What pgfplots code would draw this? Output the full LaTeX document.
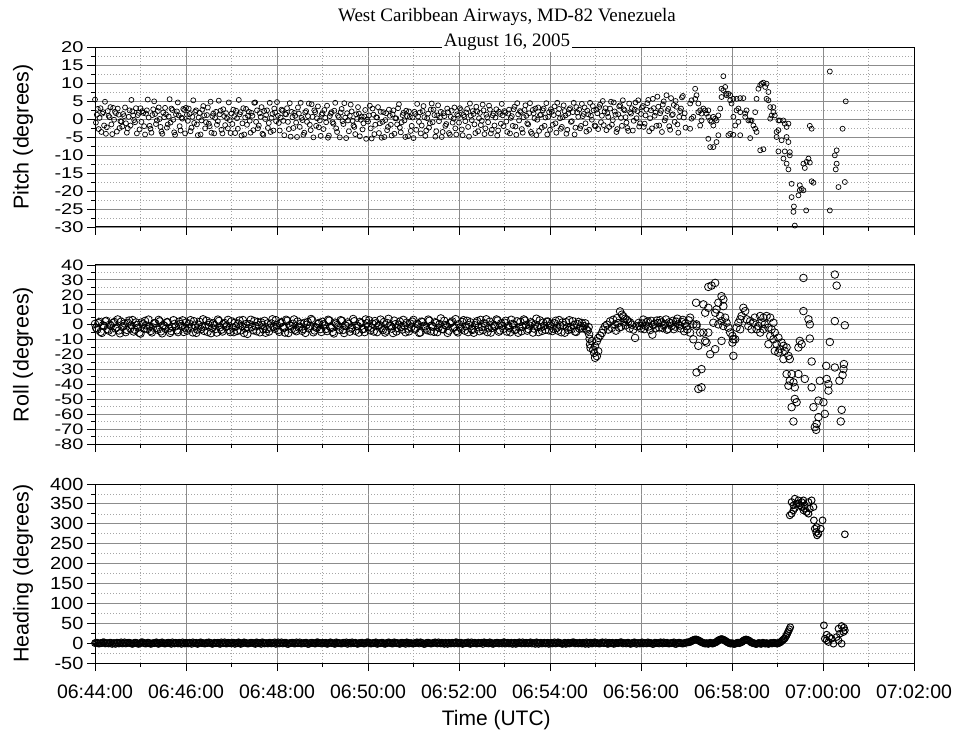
\documentclass[border=0pt]{standalone}
\usepackage{pgfplots}
\pgfplotsset{compat=1.18}
\usepackage{graphicx}
\usepackage{fontspec}
\setmainfont{Liberation Sans}
\newfontfamily\titlefont{Liberation Serif}

\pgfplotsset{
  panel/.style={
    scale only axis, width=819pt,
    xmin=0, xmax=18,
    xtick={0,2,...,18}, minor xtick={1,3,...,17},
    xtick pos=bottom, ytick pos=left,
    tick align=outside,
    major tick length=8pt, minor tick length=4pt,
    grid=both,
    major grid style={black!45, line width=0.9pt},
    minor grid style={black!35, line width=0.6pt, dash pattern=on 1pt off 2pt},
    axis line style={line width=1pt},
    every tick/.style={black, line width=0.9pt},
    minor y tick num=1,
    /pgf/number format/assume math mode=true,
    xticklabels={},
    yticklabel style={anchor=east, font=\fontsize{20}{20}\selectfont},
    every axis y label/.style={at={(axis description cs:-0.0879,0.5)}, rotate=90, anchor=center, font=\fontsize{21.5}{21.5}\selectfont},
  },
  sq/.style={yticklabel={\scalebox{1}[#1]{\pgfmathprintnumber{\tick}}}},
  pmark/.style={only marks, mark=o, mark size=2.5pt, mark options={black, line width=0.7pt}},
  rmark/.style={only marks, mark=o, mark size=3.8pt, mark options={black, line width=0.8pt}},
  hmark/.style={only marks, mark=o, mark size=3.4pt, mark options={black, line width=0.95pt}},
}

\begin{document}
\begin{tikzpicture}
\useasboundingbox (0,0) rectangle (955pt,732pt);

% ---------------- Pitch ----------------
\begin{axis}[panel, sq=0.78, at={(95pt,505pt)}, anchor=south west, height=180pt,
  ymin=-30, ymax=20, ytick={-30,-25,...,20}, ylabel={Pitch (degrees)}]
\addplot[pmark] coordinates {
(0.00,5.4)(0.04,1.2)(0.08,-2.8)(0.12,3.0)(0.16,1.5)(0.20,-1.8)(0.24,-4.1)(0.28,2.2)(0.32,0.5)(0.36,-1.5)(0.40,3.1)(0.44,2.0)(0.48,-3.5)(0.52,1.2)(0.56,-0.6)(0.60,-2.1)(0.64,0.8)(0.68,-1.2)(0.72,-2.6)(0.76,2.4)(0.80,5.3)(0.84,1.0)(0.88,-0.9)(0.92,-4.0)(0.96,1.7)
(1.00,3.0)(1.04,2.2)(1.08,-2.0)(1.12,1.5)(1.16,5.4)(1.20,-1.9)(1.24,-3.8)(1.28,2.7)(1.32,1.4)(1.36,-0.4)(1.40,3.2)(1.44,-2.2)(1.48,-4.1)(1.52,0.5)(1.56,1.3)(1.60,-1.5)(1.64,5.5)(1.68,2.9)(1.72,-0.2)(1.76,-4.4)(1.80,2.1)(1.84,1.0)(1.88,-3.2)(1.92,0.1)(1.96,2.5)
(2.00,3.1)(2.04,-0.5)(2.08,1.4)(2.12,-2.4)(2.16,5.2)(2.20,2.0)(2.24,-1.5)(2.28,0.4)(2.32,-4.3)(2.36,2.6)(2.40,1.0)(2.44,-0.9)(2.48,3.2)(2.52,-2.0)(2.56,-3.8)(2.60,1.5)(2.64,0.3)(2.68,-1.6)(2.72,5.1)(2.76,2.3)(2.80,-4.0)(2.84,0.8)(2.88,1.6)(2.92,-2.6)(2.96,-0.3)
(3.00,1.5)(3.04,2.6)(3.08,-3.9)(3.12,0.2)(3.16,5.3)(3.20,1.9)(3.24,-1.2)(3.28,-4.3)(3.32,2.8)(3.36,0.9)(3.40,-0.5)(3.44,1.7)(3.48,-3.1)(3.52,4.6)(3.56,2.4)(3.60,-1.8)(3.64,0.6)(3.68,-4.1)(3.72,2.2)(3.76,1.1)(3.80,-2.5)(3.84,4.5)(3.88,0.3)(3.92,-3.2)(3.96,1.8)
(4.00,4.7)(4.04,-1.1)(4.08,0.4)(4.12,2.3)(4.16,-4.5)(4.20,1.3)(4.24,-0.8)(4.28,4.4)(4.32,2.0)(4.36,-2.5)(4.40,0.9)(4.44,-5.0)(4.48,1.5)(4.52,4.5)(4.56,-0.3)(4.60,-3.8)(4.64,2.2)(4.68,0.8)(4.72,-1.6)(4.76,4.1)(4.80,-5.1)(4.84,1.9)(4.88,0.2)(4.92,-2.3)(4.96,-4.7)
(5.00,1.6)(5.04,2.5)(5.08,-0.9)(5.12,-5.2)(5.16,0.8)(5.20,1.9)(5.24,-1.3)(5.28,4.5)(5.32,-3.6)(5.36,0.5)(5.40,1.8)(5.44,-0.6)(5.48,4.4)(5.52,-5.3)(5.56,-0.4)(5.60,0.9)(5.64,2.1)(5.68,-1.8)(5.72,-4.2)(5.76,0.0)(5.80,1.5)(5.84,-0.2)(5.88,-2.9)(5.92,0.7)(5.96,-5.5)
(6.00,-0.7)(6.04,3.7)(6.08,-5.4)(6.12,1.2)(6.16,-1.6)(6.20,0.4)(6.24,-3.9)(6.28,2.0)(6.32,-0.8)(6.36,-5.0)(6.40,1.6)(6.44,-2.2)(6.48,0.9)(6.52,-4.6)(6.56,2.4)(6.60,0.2)(6.64,-1.5)(6.68,4.1)(6.72,-3.7)(6.76,1.1)(6.80,-0.4)(6.84,2.3)(6.88,-4.8)(6.92,0.6)(6.96,-1.9)
(7.00,-5.3)(7.04,1.4)(7.08,4.2)(7.12,-0.8)(7.16,-4.0)(7.20,2.2)(7.24,0.5)(7.28,-3.2)(7.32,1.5)(7.36,-1.2)(7.40,4.3)(7.44,2.6)(7.48,-4.9)(7.52,1.0)(7.56,-0.6)(7.60,2.0)(7.64,-3.6)(7.68,0.8)(7.72,-1.4)(7.76,1.9)(7.80,-4.4)(7.84,2.3)(7.88,0.1)(7.92,-2.6)(7.96,1.3)
(8.00,-1.0)(8.04,2.5)(8.08,-4.5)(8.12,0.6)(8.16,1.8)(8.20,-2.2)(8.24,4.3)(8.28,-0.3)(8.32,1.4)(8.36,-3.9)(8.40,2.1)(8.44,0.2)(8.48,-1.7)(8.52,4.0)(8.56,-4.2)(8.60,1.2)(8.64,-0.9)(8.68,2.6)(8.72,-3.0)(8.76,1.5)(8.80,0.4)(8.84,-4.6)(8.88,2.0)(8.92,-1.3)(8.96,1.0)
(9.00,2.2)(9.04,-0.7)(9.08,1.5)(9.12,-4.0)(9.16,0.8)(9.20,2.7)(9.24,-2.1)(9.28,4.4)(9.32,-0.4)(9.36,1.9)(9.40,-3.8)(9.44,2.5)(9.48,0.9)(9.52,-1.5)(9.56,4.4)(9.60,-4.1)(9.64,1.6)(9.68,2.9)(9.72,-0.2)(9.76,-3.3)(9.80,1.2)(9.84,2.4)(9.88,-1.9)(9.92,4.4)(9.96,0.6)
(10.00,-3.0)(10.04,2.0)(10.08,1.1)(10.12,-1.2)(10.16,4.5)(10.20,2.8)(10.24,-2.7)(10.28,0.5)(10.32,2.2)(10.36,-4.1)(10.40,1.5)(10.44,3.0)(10.48,-0.6)(10.52,4.5)(10.56,-2.4)(10.60,1.8)(10.64,2.6)(10.68,-1.9)(10.72,0.8)(10.76,3.2)(10.80,-3.5)(10.84,1.3)(10.88,4.5)(10.92,-0.2)(10.96,2.4)
(11.00,-2.0)(11.04,1.6)(11.08,3.3)(11.12,-0.9)(11.16,5.0)(11.20,2.1)(11.24,-3.1)(11.28,0.6)(11.32,2.9)(11.36,-1.6)(11.40,4.6)(11.44,1.2)(11.48,-2.8)(11.52,3.5)(11.56,0.3)(11.60,5.2)(11.64,2.4)(11.68,-1.0)(11.72,-3.3)(11.76,1.9)(11.80,3.0)(11.84,-0.5)(11.88,4.6)(11.92,2.2)(11.96,-2.1)
(12.00,1.4)(12.04,3.6)(12.08,-1.3)(12.12,2.6)(12.16,5.3)(12.20,0.2)(12.24,-2.6)(12.28,3.0)(12.32,1.8)(12.36,6.2)(12.40,-1.8)(12.44,2.3)(12.48,4.0)(12.52,-0.4)(12.56,6.6)(12.60,2.8)(12.64,-3.0)(12.68,1.1)(12.72,3.9)(12.76,5.0)(12.80,-1.5)(12.84,0.6)(12.88,2.9)(12.92,6.4)(12.96,1.6)
(13.19,8.4)(13.11,5.2)(13.08,4.3)(13.19,5.6)(13.22,6.6)(13.26,4.3)(13.26,1.9)(13.30,2.4)(13.33,1.5)(13.37,2.9)(13.41,2.4)(13.44,1.5)(13.48,0.6)(13.48,2.4)(13.52,-0.4)(13.55,-0.8)(13.59,0.6)(13.63,0.1)(13.66,-0.4)(13.59,-1.8)(13.70,1.0)(13.74,2.9)(13.30,-1.8)(13.33,-0.4)(13.11,0.1)(13.15,0.6)(13.08,-2.7)(13.48,-5.5)(13.52,-7.8)(13.59,-7.8)(13.66,-6.4)(13.70,-4.5)
(13.77,6.1)(13.81,11.9)(13.77,8.4)(13.81,8.0)(13.85,8.9)(13.87,7.0)(13.88,6.6)(13.92,7.0)(13.96,5.2)(13.96,6.6)(14.03,5.6)(13.99,4.3)(14.10,5.6)(14.18,5.8)(14.25,5.8)(14.03,0.6)(14.07,-1.8)(14.10,2.4)(14.14,2.9)(14.18,1.9)(14.14,-0.8)(13.92,-4.5)(13.96,-4.1)(14.03,-4.4)(14.18,-4.5)
(14.29,1.5)(14.32,2.4)(14.36,-0.4)(14.40,-0.4)(14.43,-0.4)(14.29,0.6)(14.47,-1.8)(14.51,-2.7)(14.54,-3.6)(14.40,-5.3)(14.51,1.9)(14.54,5.6)(14.58,8.4)(14.62,9.4)(14.65,9.8)(14.69,10.1)(14.73,8.9)(14.76,9.8)(14.80,7.5)(14.76,5.6)(14.80,5.2)(14.84,3.3)(14.91,3.3)(14.87,1.0)(14.84,0.1)(14.94,1.0)(14.91,1.9)(14.62,-8.7)(14.69,-8.4)
(15.02,-0.4)(15.05,-0.4)(15.13,-0.4)(15.16,-1.3)(15.20,-2.2)(15.24,-1.3)(14.98,-3.6)(15.02,-3.1)(14.98,-5.0)(15.09,-5.9)(15.20,-5.0)(15.24,-6.4)(15.02,-9.0)(15.16,-9.0)(15.27,-9.2)(15.27,-10.1)(15.13,-11.0)(15.20,-12.4)(15.24,-14.0)(15.31,-18.0)(15.31,-21.7)(15.36,-24.3)(15.35,-25.8)(15.38,-29.6)
(15.46,-21.2)(15.49,-18.4)(15.49,-19.8)(15.53,-19.4)(15.57,-19.8)(15.57,-12.4)(15.60,-13.6)(15.64,-11.9)(15.68,-11.0)(15.71,-12.1)(15.63,-25.4)(15.71,-1.9)(15.75,-2.7)(15.75,-17.3)(15.79,-17.7)
(16.15,13.2)(16.15,-25.4)(16.26,-10.1)(16.30,-8.7)(16.30,-12.4)(16.28,-14.0)(16.34,-18.9)(16.48,-17.5)(16.43,-2.7)(16.50,4.9)
};
\addplot[pmark] coordinates {
(0.02,-1.0)(0.06,2.8)(0.10,0.3)(0.14,-3.6)(0.18,1.9)(0.22,4.8)(0.26,-2.3)(0.30,0.9)(0.34,3.3)(0.38,-4.2)(0.42,-0.2)(0.46,1.6)(0.50,2.9)(0.54,-2.5)(0.58,-0.7)(0.62,1.4)(0.66,3.2)(0.70,-3.8)(0.74,0.6)(0.78,-1.8)(0.82,2.1)(0.86,-0.3)(0.90,3.0)(0.94,1.1)(0.98,-2.9)
(1.02,-0.8)(1.06,1.7)(1.10,-4.3)(1.14,2.4)(1.18,0.4)(1.22,-2.7)(1.26,1.1)(1.30,4.9)(1.34,-1.4)(1.38,2.2)(1.42,0.0)(1.46,-3.5)(1.50,1.8)(1.54,3.1)(1.58,-2.4)(1.62,0.7)(1.66,-1.0)(1.70,2.5)(1.74,-3.7)(1.78,1.3)(1.82,4.6)(1.86,-2.0)(1.90,0.4)(1.94,2.8)(1.98,-4.0)
(2.02,1.2)(2.06,2.9)(2.10,-3.4)(2.14,0.6)(2.18,-1.1)(2.22,2.4)(2.26,-4.5)(2.30,1.7)(2.34,-0.4)(2.38,3.6)(2.42,-2.6)(2.46,1.1)(2.50,-1.3)(2.54,4.8)(2.58,0.8)(2.62,-4.0)(2.66,2.0)(2.70,-0.6)(2.74,1.3)(2.78,-3.0)(2.82,2.7)(2.86,-1.7)(2.90,0.2)(2.94,4.6)(2.98,-3.9)
(3.02,-1.4)(3.06,0.8)(3.10,2.3)(3.14,-2.7)(3.18,1.3)(3.22,-4.6)(3.26,3.0)(3.30,0.4)(3.34,-1.6)(3.38,2.0)(3.42,-3.8)(3.46,0.9)(3.50,4.5)(3.54,-0.8)(3.58,-2.6)(3.62,1.6)(3.66,3.3)(3.70,-4.4)(3.74,0.0)(3.78,2.4)(3.82,-1.1)(3.86,-3.6)(3.90,1.4)(3.94,2.9)(3.98,-0.6)
(4.02,0.9)(4.06,-3.2)(4.10,2.6)(4.14,-0.5)(4.18,1.4)(4.22,3.0)(4.26,-2.8)(4.30,-4.9)(4.34,0.5)(4.38,1.7)(4.42,-1.0)(4.46,3.2)(4.50,-2.2)(4.54,0.3)(4.58,-4.4)(4.62,1.8)(4.66,-0.8)(4.70,4.3)(4.74,-3.1)(4.78,0.6)(4.82,2.4)(4.86,-1.9)(4.90,3.5)(4.94,-0.4)(4.98,1.2)
(5.02,-2.8)(5.06,0.3)(5.10,3.7)(5.14,-4.6)(5.18,1.5)(5.22,-0.9)(5.26,2.3)(5.30,-2.6)(5.34,0.9)(5.38,-5.1)(5.42,2.8)(5.46,-1.4)(5.50,0.4)(5.54,1.6)(5.58,-3.4)(5.62,4.0)(5.66,-0.5)(5.70,-2.2)(5.74,1.3)(5.78,3.3)(5.82,-4.8)(5.86,0.7)(5.90,-1.2)(5.94,2.5)(5.98,-0.1)
(6.02,1.0)(6.06,-2.6)(6.10,2.9)(6.14,-4.2)(6.18,0.5)(6.22,3.3)(6.26,-1.2)(6.30,-5.2)(6.34,1.9)(6.38,-0.3)(6.42,-3.1)(6.46,2.6)(6.50,-1.6)(6.54,1.3)(6.58,-4.1)(6.62,0.2)(6.66,3.0)(6.70,-2.4)(6.74,-0.9)(6.78,1.7)(6.82,-5.0)(6.86,0.8)(6.90,2.1)(6.94,-3.3)(6.98,0.4)
(7.02,2.0)(7.06,-3.0)(7.10,0.7)(7.14,1.8)(7.18,-1.8)(7.22,3.6)(7.26,-4.7)(7.30,0.2)(7.34,-2.4)(7.38,2.6)(7.42,-0.9)(7.46,1.1)(7.50,-3.4)(7.54,3.8)(7.58,0.4)(7.62,-5.0)(7.66,1.6)(7.70,-1.9)(7.74,2.9)(7.78,-3.9)(7.82,0.6)(7.86,-1.0)(7.90,3.2)(7.94,-4.3)(7.98,0.9)
(8.02,3.0)(8.06,-2.9)(8.10,1.1)(8.14,-0.6)(8.18,2.8)(8.22,-4.9)(8.26,0.9)(8.30,2.2)(8.34,-1.5)(8.38,3.4)(8.42,-3.4)(8.46,1.7)(8.50,-0.5)(8.54,2.4)(8.58,-2.6)(8.62,0.5)(8.66,3.7)(8.70,-4.0)(8.74,1.0)(8.78,-1.8)(8.82,2.7)(8.86,-3.2)(8.90,1.4)(8.94,4.2)(8.98,-2.0)
(9.02,1.8)(9.06,-3.6)(9.10,2.6)(9.14,0.3)(9.18,-1.9)(9.22,3.4)(9.26,-4.4)(9.30,1.3)(9.34,2.2)(9.38,-2.8)(9.42,0.5)(9.46,3.8)(9.50,-1.2)(9.54,1.6)(9.58,-3.6)(9.62,2.5)(9.66,0.2)(9.70,-4.5)(9.74,3.2)(9.78,1.1)(9.82,-2.4)(9.86,2.9)(9.90,0.4)(9.94,-4.3)(9.98,1.9)
(10.02,2.7)(10.06,-1.6)(10.10,3.5)(10.14,-3.8)(10.18,1.6)(10.22,0.2)(10.26,-2.2)(10.30,3.8)(10.34,1.0)(10.38,-3.0)(10.42,2.6)(10.46,-0.8)(10.50,1.9)(10.54,-4.3)(10.58,3.3)(10.62,0.6)(10.66,-2.6)(10.70,4.2)(10.74,1.4)(10.78,-1.2)(10.82,2.3)(10.86,-3.0)(10.90,0.9)(10.94,3.6)(10.98,-1.8)
(11.02,2.6)(11.06,-2.8)(11.10,4.0)(11.14,0.9)(11.18,-1.7)(11.22,3.0)(11.26,1.6)(11.30,-2.2)(11.34,4.8)(11.38,-0.3)(11.42,2.1)(11.46,-3.6)(11.50,1.3)(11.54,3.8)(11.58,-1.9)(11.62,2.7)(11.66,0.5)(11.70,-2.5)(11.74,4.3)(11.78,1.5)(11.82,-3.2)(11.86,2.6)(11.90,0.2)(11.94,5.2)(11.98,-1.2)
(12.02,3.2)(12.06,-2.2)(12.10,1.0)(12.14,4.4)(12.18,-3.4)(12.22,2.4)(12.26,5.6)(12.30,0.9)(12.34,-1.9)(12.38,3.4)(12.42,1.6)(12.46,-3.6)(12.50,4.9)(12.54,0.3)(12.58,2.2)(12.62,-2.0)(12.66,5.8)(12.70,1.3)(12.74,-0.8)(12.78,3.4)(12.82,-3.8)(12.86,2.2)(12.90,6.0)(12.94,0.4)(12.98,-2.4)
};
\end{axis}

% ---------------- Roll ----------------
\begin{axis}[panel, sq=0.76, at={(95pt,288pt)}, anchor=south west, height=179pt,
  ymin=-80, ymax=40, ytick={-80,-70,...,40}, ylabel={Roll (degrees)}]
\addplot[rmark] coordinates {
(0.00,0.5)(0.05,-3.2)(0.10,1.8)(0.15,-5.5)(0.20,-1.0)(0.25,2.6)(0.30,-4.0)(0.35,-0.8)(0.40,1.2)(0.45,-2.5)(0.50,3.5)(0.55,-5.8)(0.60,-1.5)(0.65,0.8)(0.70,-3.5)(0.75,2.8)(0.80,-0.5)(0.85,-4.6)(0.90,1.5)(0.95,-2.0)
(1.00,-6.0)(1.05,0.2)(1.10,2.5)(1.15,-3.0)(1.20,-1.2)(1.25,-5.2)(1.30,1.0)(1.35,-2.2)(1.40,3.2)(1.45,-4.5)(1.50,-0.3)(1.55,-2.8)(1.60,1.6)(1.65,-5.5)(1.70,-1.6)(1.75,0.5)(1.80,-3.8)(1.85,2.0)(1.90,-0.9)(1.95,-4.9)
(2.00,1.4)(2.05,-2.4)(2.10,3.0)(2.15,-5.2)(2.20,-0.6)(2.25,-3.3)(2.30,1.9)(2.35,-1.4)(2.40,-4.2)(2.45,2.6)(2.50,-0.2)(2.55,-5.7)(2.60,0.9)(2.65,-2.9)(2.70,3.4)(2.75,-1.8)(2.80,-4.6)(2.85,1.1)(2.90,-0.7)(2.95,-3.6)
(3.00,2.2)(3.05,-5.0)(3.10,-1.1)(3.15,0.7)(3.20,-3.9)(3.25,3.1)(3.30,-2.3)(3.35,-6.2)(3.40,0.3)(3.45,-1.5)(3.50,2.4)(3.55,-4.4)(3.60,-0.4)(3.65,1.6)(3.70,-3.1)(3.75,-5.4)(3.80,0.9)(3.85,-1.9)(3.90,3.6)(3.95,-2.7)
(4.00,-0.3)(4.05,-4.8)(4.10,1.7)(4.15,-2.1)(4.20,3.3)(4.25,-5.6)(4.30,-0.9)(4.35,0.6)(4.40,-3.4)(4.45,2.1)(4.50,-1.3)(4.55,-4.1)(4.60,1.2)(4.65,-0.1)(4.70,-2.6)(4.75,3.8)(4.80,-5.1)(4.85,-1.7)(4.90,0.4)(4.95,-3.0)
(5.00,1.9)(5.05,-0.6)(5.10,-4.3)(5.15,2.7)(5.20,-2.2)(5.25,-5.9)(5.30,0.8)(5.35,-1.1)(5.40,3.0)(5.45,-3.6)(5.50,-0.4)(5.55,1.5)(5.60,-4.7)(5.65,-2.0)(5.70,2.3)(5.75,-0.8)(5.80,-5.3)(5.85,1.0)(5.90,-2.9)(5.95,3.5)
(6.00,-1.4)(6.05,-3.8)(6.10,0.6)(6.15,2.4)(6.20,-5.0)(6.25,-0.2)(6.30,-2.5)(6.35,1.8)(6.40,-4.0)(6.45,3.9)(6.50,-1.0)(6.55,-5.6)(6.60,0.3)(6.65,-2.2)(6.70,2.0)(6.75,-3.3)(6.80,-0.5)(6.85,1.3)(6.90,-4.5)(6.95,-1.8)
(7.00,3.2)(7.05,-2.6)(7.10,0.1)(7.15,-5.2)(7.20,1.7)(7.25,-1.2)(7.30,-3.7)(7.35,2.6)(7.40,-0.6)(7.45,-4.8)(7.50,1.1)(7.55,-2.0)(7.60,4.2)(7.65,-3.1)(7.70,-0.3)(7.75,-5.5)(7.80,0.8)(7.85,2.2)(7.90,-1.6)(7.95,-4.2)
(8.00,0.4)(8.05,-2.8)(8.10,3.0)(8.15,-1.0)(8.20,-5.0)(8.25,1.6)(8.30,-3.5)(8.35,-0.4)(8.40,2.4)(8.45,-4.4)(8.50,-1.5)(8.55,0.9)(8.60,3.6)(8.65,-2.4)(8.70,-5.3)(8.75,0.2)(8.80,-1.1)(8.85,2.8)(8.90,-3.8)(8.95,-0.7)
(9.00,1.3)(9.05,-4.6)(9.10,-2.0)(9.15,3.3)(9.20,0.0)(9.25,-3.2)(9.30,-5.4)(9.35,1.9)(9.40,-1.3)(9.45,2.7)(9.50,-4.0)(9.55,-0.6)(9.60,0.8)(9.65,-2.6)(9.70,4.0)(9.75,-5.0)(9.80,-1.8)(9.85,1.4)(9.90,-3.4)(9.95,2.1)
(10.00,-0.8)(10.05,-4.3)(10.10,1.0)(10.15,-2.2)(10.20,3.1)(10.25,-5.1)(10.30,-0.4)(10.35,1.7)(10.40,-3.6)(10.45,-1.5)(10.50,2.3)(10.55,-4.6)(10.60,0.5)(10.65,-2.7)(10.70,1.2)(10.75,-0.9)(10.80,-3.2)(10.85,-1.6)
(10.86,-6.5)(10.87,-9.5)(10.88,-13.3)(10.92,-11.1)(10.89,-15.6)(10.95,-16.7)(10.97,-18.9)(10.99,-22.2)(11.03,-21.1)(11.06,-17.8)(10.99,-14.4)(11.03,-11.1)(11.06,-8.9)(11.10,-7.3)(11.14,-5.6)(11.17,-3.3)(11.21,-1.1)(11.25,0)(11.32,2.2)(11.39,3.3)(11.47,4.4)(11.54,8.9)(11.58,6.7)(11.61,5.6)(11.50,1.1)(11.43,0)(11.36,-2.2)(11.28,-3.3)(11.69,3.3)(11.72,2.2)(11.80,0)(11.87,-8.9)(11.83,-3.3)(11.91,-1.1)
(11.45,-4.0)(11.56,-1.5)(11.66,-0.5)(11.75,-2.5)(11.62,1.5)(11.52,-2.0)(11.65,4.0)(11.76,1.5)
(11.95,1.2)(12.00,-2.5)(12.05,3.4)(12.10,-0.8)(12.15,2.2)(12.20,-3.6)(12.25,-6.7)(12.30,0.6)(12.35,2.8)(12.40,-1.9)(12.45,1.5)(12.50,-0.4)(12.55,3.5)(12.60,-2.8)(12.65,0.9)(12.70,2.6)(12.75,-1.3)(12.80,4.0)(12.85,-0.6)(12.90,1.8)(12.95,-4.4)(13.00,-1.0)(13.05,2.9)
(11.97,-1.0)(12.02,0.8)(12.07,-3.0)(12.12,1.6)(12.17,-1.2)(12.22,2.6)(12.27,-0.2)(12.32,-2.4)(12.37,1.0)(12.42,3.0)(12.47,-2.2)(12.52,0.4)(12.57,-3.4)(12.62,1.6)(12.67,-0.8)(12.72,-3.0)(12.77,2.0)(12.82,0.2)(12.87,-2.6)(12.92,3.2)(12.97,0.6)(13.02,-3.2)
(13.08,4.7)(13.15,0.2)(13.22,-0.9)(13.08,-5.3)(13.15,-9.8)(13.26,-14.2)(13.37,-5.3)(13.48,-5.3)(13.41,-10.9)(13.44,-12)(13.52,-19.8)(13.63,-16.4)(13.30,-5.3)(13.22,0.2)(13.21,14.7)(13.37,13.6)(13.48,11.3)(13.41,8)(13.48,25.3)(13.55,26.2)(13.63,28)
(13.77,19.1)(13.81,16.9)(13.70,14.7)(13.81,12.4)(13.66,10.2)(13.63,8)(13.74,5.8)(13.85,4.7)(13.88,1.3)(13.77,2.4)(13.70,0.2)(13.59,1.3)(13.81,-0.9)(13.92,-2)(13.96,-5.3)(14.01,-7.6)(14.03,-9.8)(14.01,-12)(14.07,-9.8)(13.77,-10.9)(14.03,-20.9)(13.22,-32)(13.33,-29.8)(13.26,-43.1)(13.33,-42)
(14.25,11.3)(14.29,9.1)(14.21,5.8)(14.18,3.6)(14.14,1.3)(14.10,-2)(14.18,-3.1)(14.32,3.6)(14.40,2.4)(14.47,1.3)(14.36,-0.9)(14.43,-3.1)(14.54,-3.1)(14.62,5.8)(14.69,4.7)(14.76,5.8)(14.84,4.7)(14.65,1.3)(14.72,0.2)(14.80,-2)(14.87,-3.1)(14.91,1.3)(14.58,-0.9)(14.50,4.7)(14.84,-7.6)(14.91,-9.8)(14.94,-5.3)(14.98,-13.1)(15.02,-8.7)(15.05,-16.4)(15.09,-12)(15.13,-14.2)(15.16,-17.6)(15.20,-15.3)(15.24,-20.9)(15.27,-23.1)(15.13,-23.1)(15.02,-18.7)(14.94,-17.6)(14.80,-13.1)(14.62,-5.3)(14.69,-3.1)
(15.20,-33.1)(15.31,-33.1)(15.46,-33.1)(15.27,-37.6)(15.35,-38.7)(15.24,-40.9)(15.38,-42)(15.60,-36.4)(15.75,-42)(15.38,-49.8)(15.42,-52)(15.31,-55.3)(15.35,-64.9)(15.57,9.1)(15.68,3.6)(15.71,0.2)(15.49,-10.9)(15.53,-13.1)(15.46,-15.3)(15.71,-9.3)(15.75,-24.7)(15.93,-37.6)(15.90,-50.9)(16.01,-52)(15.79,-55.3)(16.04,-59.8)(15.90,-62)(15.86,-66.5)(15.82,-68.7)(15.85,-70.5)
(16.08,-36.4)(16.12,-39.8)(16.07,-27.6)(16.12,-44.2)(16.15,-11.6)(16.26,33.6)(16.30,26.2)(16.26,2.4)(16.48,-0.4)(16.26,-28.7)(16.46,-26.4)(16.45,-29.8)(16.43,-33.8)(16.36,-37.6)(16.41,-57.1)(16.39,-64.9)(15.57,31.3)
};
\addplot[rmark] coordinates {
(0.025,-2.2)(0.075,1.0)(0.125,-4.8)(0.175,-0.4)(0.225,2.2)(0.275,-3.0)(0.325,0.0)(0.375,-5.2)(0.425,1.8)(0.475,-1.8)(0.525,-3.9)(0.575,2.0)(0.625,-0.9)(0.675,-5.0)(0.725,1.2)(0.775,-2.5)(0.825,3.1)(0.875,-3.4)(0.925,-0.2)(0.975,-5.4)
(1.025,1.5)(1.075,-2.7)(1.125,-0.5)(1.175,3.4)(1.225,-4.2)(1.275,-1.9)(1.325,0.9)(1.375,-3.4)(1.425,2.2)(1.475,-5.8)(1.525,-0.8)(1.575,1.6)(1.625,-2.4)(1.675,-4.3)(1.725,3.0)(1.775,-1.1)(1.825,-5.0)(1.875,0.4)(1.925,2.9)(1.975,-2.0)
(2.025,-4.0)(2.075,0.6)(2.125,-1.9)(2.175,2.3)(2.225,-5.5)(2.275,-0.1)(2.325,-3.0)(2.375,3.6)(2.425,-1.0)(2.475,-4.9)(2.525,1.4)(2.575,-2.3)(2.625,-0.3)(2.675,-5.3)(2.725,2.5)(2.775,-3.4)(2.825,0.3)(2.875,-1.4)(2.925,3.2)(2.975,-5.0)
(3.025,-2.0)(3.075,1.3)(3.125,-4.2)(3.175,2.8)(3.225,-0.8)(3.275,-5.6)(3.325,0.5)(3.375,-2.5)(3.425,3.3)(3.475,-3.7)(3.525,-1.0)(3.575,1.8)(3.625,-5.1)(3.675,-0.2)(3.725,2.6)(3.775,-2.9)(3.825,-4.6)(3.875,0.8)(3.925,-1.4)(3.975,3.0)
(4.025,-3.6)(4.075,1.0)(4.125,-1.6)(4.175,-5.3)(4.225,2.6)(4.275,-0.4)(4.325,-3.0)(4.375,3.5)(4.425,-4.4)(4.475,-1.9)(4.525,0.7)(4.575,-2.9)(4.625,-5.5)(4.675,1.8)(4.725,-0.7)(4.775,2.9)(4.825,-3.9)(4.875,-2.2)(4.925,1.2)(4.975,-4.9)
(5.025,0.2)(5.075,-2.9)(5.125,3.3)(5.175,-1.6)(5.225,-4.9)(5.275,1.4)(5.325,-0.2)(5.375,-3.4)(5.425,2.5)(5.475,-5.6)(5.525,-1.0)(5.575,0.5)(5.625,-2.6)(5.675,3.8)(5.725,-4.1)(5.775,-0.9)(5.825,1.8)(5.875,-3.0)(5.925,-5.0)(5.975,0.9)
(6.025,2.9)(6.075,-2.0)(6.125,-4.6)(6.175,0.9)(6.225,-1.1)(6.275,3.4)(6.325,-3.6)(6.375,-5.3)(6.425,1.1)(6.475,-0.6)(6.525,-2.7)(6.575,2.7)(6.625,-4.6)(6.675,0.0)(6.725,-1.6)(6.775,3.2)(6.825,-5.1)(6.875,-2.6)(6.925,0.8)(6.975,2.0)
(7.025,-3.2)(7.075,0.5)(7.125,-5.5)(7.175,2.0)(7.225,-0.8)(7.275,-2.6)(7.325,3.4)(7.375,-4.4)(7.425,-1.4)(7.475,1.6)(7.525,-5.0)(7.575,0.4)(7.625,-2.9)(7.675,2.6)(7.725,-0.9)(7.775,-4.0)(7.825,1.4)(7.875,-2.2)(7.925,3.7)(7.975,-5.2)
(8.025,-1.8)(8.075,1.8)(8.125,-4.0)(8.175,2.6)(8.225,-0.2)(8.275,-3.0)(8.325,-5.4)(8.375,1.2)(8.425,-1.7)(8.475,3.2)(8.525,-3.6)(8.575,0.6)(8.625,-5.0)(8.675,2.0)(8.725,-2.2)(8.775,-0.6)(8.825,3.5)(8.875,-4.7)(8.925,0.9)(8.975,-2.8)
(9.025,2.6)(9.075,-1.0)(9.125,-5.1)(9.175,0.5)(9.225,-3.6)(9.275,2.2)(9.325,-1.8)(9.375,-4.4)(9.425,3.5)(9.475,-0.2)(9.525,-2.9)(9.575,1.6)(9.625,-5.3)(9.675,0.1)(9.725,-1.4)(9.775,2.9)(9.825,-4.2)(9.875,-0.7)(9.925,1.9)(9.975,-3.8)
(10.025,0.6)(10.075,-2.7)(10.125,2.6)(10.175,-4.0)(10.225,-0.5)(10.275,1.5)(10.325,-5.4)(10.375,-1.9)(10.425,3.0)(10.475,-3.0)(10.525,-0.2)(10.575,-4.9)(10.625,1.8)(10.675,-1.1)(10.725,-2.5)(10.775,0.9)(10.825,-4.0)
};
\end{axis}

% ---------------- Heading ----------------
\begin{axis}[panel, sq=0.88, at={(95pt,69pt)}, anchor=south west, height=179pt,
  ymin=-50, ymax=400, ytick={-50,0,...,400}, ylabel={Heading (degrees)},
  xticklabels={06:44:00,06:46:00,06:48:00,06:50:00,06:52:00,06:54:00,06:56:00,06:58:00,07:00:00,07:02:00},
  xticklabel style={anchor=base, yshift=-27pt, font=\fontsize{19.5}{19.5}\selectfont},
  xlabel={Time (UTC)},
  xlabel style={at={(axis description cs:0.49,0)}, anchor=base, yshift=-62pt, font=\fontsize{21}{21}\selectfont}]
\addplot[hmark] coordinates {
(0.00,0)(0.05,1)(0.10,-1)(0.15,0)(0.20,2)(0.25,0)(0.30,-1)(0.35,1)(0.40,0)(0.45,-2)(0.50,1)(0.55,0)(0.60,-1)(0.65,2)(0.70,0)(0.75,1)(0.80,-1)(0.85,0)(0.90,1)(0.95,-2)
(1.00,0)(1.05,2)(1.10,-1)(1.15,1)(1.20,0)(1.25,-1)(1.30,0)(1.35,2)(1.40,-2)(1.45,1)(1.50,0)(1.55,-1)(1.60,1)(1.65,0)(1.70,2)(1.75,-1)(1.80,0)(1.85,1)(1.90,-2)(1.95,0)
(2.00,1)(2.05,-1)(2.10,0)(2.15,2)(2.20,0)(2.25,-2)(2.30,1)(2.35,0)(2.40,-1)(2.45,1)(2.50,2)(2.55,0)(2.60,-1)(2.65,0)(2.70,1)(2.75,-2)(2.80,0)(2.85,2)(2.90,-1)(2.95,0)
(3.00,-1)(3.05,1)(3.10,0)(3.15,2)(3.20,-2)(3.25,0)(3.30,1)(3.35,-1)(3.40,0)(3.45,1)(3.50,-1)(3.55,2)(3.60,0)(3.65,-2)(3.70,1)(3.75,0)(3.80,-1)(3.85,1)(3.90,0)(3.95,2)
(4.00,0)(4.05,-1)(4.10,2)(4.15,0)(4.20,1)(4.25,-2)(4.30,0)(4.35,1)(4.40,-1)(4.45,0)(4.50,2)(4.55,-1)(4.60,0)(4.65,1)(4.70,-2)(4.75,1)(4.80,0)(4.85,-1)(4.90,2)(4.95,0)
(5.00,1)(5.05,0)(5.10,-2)(5.15,1)(5.20,0)(5.25,-1)(5.30,2)(5.35,0)(5.40,-1)(5.45,1)(5.50,0)(5.55,-2)(5.60,1)(5.65,2)(5.70,0)(5.75,-1)(5.80,0)(5.85,1)(5.90,-1)(5.95,0)
(6.00,2)(6.05,-1)(6.10,0)(6.15,1)(6.20,-2)(6.25,0)(6.30,1)(6.35,-1)(6.40,0)(6.45,2)(6.50,0)(6.55,-1)(6.60,1)(6.65,0)(6.70,-2)(6.75,1)(6.80,0)(6.85,2)(6.90,-1)(6.95,0)
(7.00,-1)(7.05,0)(7.10,1)(7.15,2)(7.20,0)(7.25,-2)(7.30,1)(7.35,0)(7.40,-1)(7.45,1)(7.50,0)(7.55,2)(7.60,-1)(7.65,0)(7.70,1)(7.75,-2)(7.80,0)(7.85,1)(7.90,-1)(7.95,2)
(8.00,0)(8.05,1)(8.10,-1)(8.15,0)(8.20,2)(8.25,-2)(8.30,0)(8.35,1)(8.40,-1)(8.45,0)(8.50,1)(8.55,2)(8.60,0)(8.65,-1)(8.70,1)(8.75,-2)(8.80,0)(8.85,1)(8.90,0)(8.95,-1)
(9.00,2)(9.05,0)(9.10,-1)(9.15,1)(9.20,0)(9.25,-2)(9.30,1)(9.35,0)(9.40,2)(9.45,-1)(9.50,0)(9.55,1)(9.60,-1)(9.65,0)(9.70,2)(9.75,-2)(9.80,1)(9.85,0)(9.90,-1)(9.95,1)
(10.00,0)(10.05,-1)(10.10,2)(10.15,0)(10.20,1)(10.25,-1)(10.30,0)(10.35,-2)(10.40,1)(10.45,0)(10.50,2)(10.55,-1)(10.60,0)(10.65,1)(10.70,-1)(10.75,0)(10.80,2)(10.85,-2)(10.90,1)(10.95,0)
(11.00,1)(11.05,0)(11.10,-1)(11.15,2)(11.20,0)(11.25,-1)(11.30,1)(11.35,0)(11.40,-2)(11.45,1)(11.50,0)(11.55,2)(11.60,-1)(11.65,0)(11.70,1)(11.75,-1)(11.80,0)(11.85,2)(11.90,-2)(11.95,0)
(12.00,1)(12.05,-1)(12.10,0)(12.15,2)(12.20,0)(12.25,-2)(12.30,1)(12.35,0)(12.40,-1)(12.45,1)(12.50,2)(12.55,0)(12.60,-1)(12.65,0)(12.70,1)(12.75,-2)(12.80,0)(12.85,1)(12.90,-1)(12.95,0)
(13.00,1)(13.05,2)(13.10,4)(13.12,6)(13.16,8)(13.20,9)(13.24,8)(13.28,6)(13.32,3)(13.36,1)(13.40,-1)(13.44,0)(13.48,-2)(13.52,1)(13.56,-1)(13.60,0)(13.64,2)(13.68,5)(13.72,8)(13.76,10)(13.80,9)(13.84,7)(13.88,4)(13.92,1)(13.96,-1)
(14.00,0)(14.04,-2)(14.08,-1)(14.12,1)(14.16,0)(14.20,2)(14.24,5)(14.28,8)(14.32,9)(14.36,7)(14.40,4)(14.44,1)(14.48,0)(14.52,-2)(14.56,-1)(14.60,0)(14.64,-2)(14.68,1)(14.72,-1)(14.76,0)(14.80,-2)(14.84,0)(14.88,-1)(14.92,1)(14.96,0)
(15.00,-1)(15.04,1)(15.08,4)(15.12,8)(15.16,12)(15.18,16)(15.20,20)(15.22,25)(15.24,30)(15.26,35)(15.28,40)
(15.31,325.4)(15.35,333.8)(15.31,354.7)(15.38,363.1)(15.46,358.9)(15.53,354.7)(15.60,346.4)(15.64,329.6)(15.57,333.8)(15.68,325.4)(15.75,358.9)(15.79,342.2)(15.49,346.4)(15.42,350.5)(15.38,339.7)(15.35,346.4)(15.27,321.2)(15.71,338)(15.60,338)(15.53,342.2)(15.46,350.5)(15.68,354.7)(15.57,358.9)
(15.80,308.6)(15.99,308.6)(15.86,291.9)(15.85,279.3)(15.87,270.9)(15.95,287.7)(15.90,275.1)(15.82,287.7)(16.48,273.5)
(16.02,44.7)(16.08,21.2)(16.04,11.2)(16.12,2.8)(16.23,-1.4)(16.41,-1.4)(16.34,36.3)(16.41,43)(16.46,38.8)(16.48,32.1)(16.37,23.7)(16.14,15.4)(16.19,11.2)(16.30,15.4)(16.34,7)(16.08,7)(16.45,27.9)
};
\addplot[hmark] coordinates {
(0.025,1)(0.075,-1)(0.125,0)(0.175,2)(0.225,-1)(0.275,0)(0.325,1)(0.375,-2)(0.425,0)(0.475,1)(0.525,-1)(0.575,2)(0.625,0)(0.675,-1)(0.725,1)(0.775,0)(0.825,-2)(0.875,1)(0.925,0)(0.975,-1)
(1.025,2)(1.075,0)(1.125,-1)(1.175,1)(1.225,-2)(1.275,0)(1.325,1)(1.375,-1)(1.425,0)(1.475,2)(1.525,-1)(1.575,0)(1.625,1)(1.675,-2)(1.725,0)(1.775,1)(1.825,-1)(1.875,0)(1.925,2)(1.975,-1)
(2.025,0)(2.075,1)(2.125,-2)(2.175,0)(2.225,1)(2.275,-1)(2.325,2)(2.375,0)(2.425,-1)(2.475,0)(2.525,1)(2.575,-2)(2.625,1)(2.675,0)(2.725,-1)(2.775,2)(2.825,0)(2.875,-1)(2.925,1)(2.975,0)
(3.025,1)(3.075,-2)(3.125,0)(3.175,1)(3.225,-1)(3.275,2)(3.325,0)(3.375,-1)(3.425,1)(3.475,0)(3.525,-2)(3.575,1)(3.625,0)(3.675,2)(3.725,-1)(3.775,0)(3.825,1)(3.875,-1)(3.925,0)(3.975,-2)
(4.025,2)(4.075,0)(4.125,-1)(4.175,1)(4.225,-2)(4.275,0)(4.325,1)(4.375,-1)(4.425,2)(4.475,0)(4.525,-1)(4.575,0)(4.625,1)(4.675,-2)(4.725,0)(4.775,1)(4.825,-1)(4.875,2)(4.925,0)(4.975,-1)
(5.025,0)(5.075,1)(5.125,-1)(5.175,2)(5.225,0)(5.275,-2)(5.325,1)(5.375,0)(5.425,-1)(5.475,1)(5.525,2)(5.575,0)(5.625,-1)(5.675,0)(5.725,1)(5.775,-2)(5.825,0)(5.875,1)(5.925,-1)(5.975,2)
(6.025,1)(6.075,-1)(6.125,0)(6.175,2)(6.225,-1)(6.275,0)(6.325,1)(6.375,-2)(6.425,0)(6.475,1)(6.525,-1)(6.575,2)(6.625,0)(6.675,-1)(6.725,1)(6.775,0)(6.825,-2)(6.875,1)(6.925,0)(6.975,-1)
(7.025,0)(7.075,2)(7.125,-1)(7.175,1)(7.225,-2)(7.275,0)(7.325,1)(7.375,-1)(7.425,0)(7.475,2)(7.525,-1)(7.575,0)(7.625,1)(7.675,-2)(7.725,0)(7.775,1)(7.825,-1)(7.875,0)(7.925,2)(7.975,-1)
(8.025,1)(8.075,-2)(8.125,0)(8.175,1)(8.225,-1)(8.275,2)(8.325,0)(8.375,-1)(8.425,1)(8.475,0)(8.525,-2)(8.575,1)(8.625,0)(8.675,2)(8.725,-1)(8.775,0)(8.825,1)(8.875,-1)(8.925,0)(8.975,2)
(9.025,-1)(9.075,1)(9.125,0)(9.175,-2)(9.225,1)(9.275,0)(9.325,2)(9.375,-1)(9.425,0)(9.475,1)(9.525,-1)(9.575,2)(9.625,0)(9.675,-2)(9.725,1)(9.775,0)(9.825,-1)(9.875,1)(9.925,0)(9.975,-2)
(10.025,1)(10.075,0)(10.125,-1)(10.175,2)(10.225,0)(10.275,-2)(10.325,1)(10.375,0)(10.425,-1)(10.475,1)(10.525,2)(10.575,0)(10.625,-1)(10.675,0)(10.725,1)(10.775,-2)(10.825,0)(10.875,1)(10.925,-1)(10.975,2)
(11.025,0)(11.075,-1)(11.125,1)(11.175,0)(11.225,2)(11.275,-2)(11.325,0)(11.375,1)(11.425,-1)(11.475,0)(11.525,1)(11.575,2)(11.625,0)(11.675,-1)(11.725,1)(11.775,-2)(11.825,0)(11.875,1)(11.925,0)(11.975,-1)
(12.025,2)(12.075,0)(12.125,-1)(12.175,1)(12.225,0)(12.275,-2)(12.325,1)(12.375,0)(12.425,2)(12.475,-1)(12.525,0)(12.575,1)(12.625,-1)(12.675,0)(12.725,2)(12.775,-2)(12.825,1)(12.875,0)(12.925,-1)(12.975,1)
(13.025,2)(13.075,3)(13.14,7)(13.18,9)(13.22,9)(13.26,7)(13.30,4)(13.34,2)(13.38,0)(13.42,-1)(13.46,-1)(13.50,0)(13.54,0)(13.58,-1)(13.62,1)(13.66,3)(13.70,7)(13.74,9)(13.78,10)(13.82,8)(13.86,5)(13.90,2)(13.94,0)(13.98,-1)
(14.02,-1)(14.06,-2)(14.10,0)(14.14,1)(14.18,1)(14.22,3)(14.26,7)(14.30,9)(14.34,8)(14.38,6)(14.42,2)(14.46,0)(14.50,-1)(14.54,-2)(14.58,0)(14.62,-1)(14.66,0)(14.70,0)(14.74,-1)(14.78,-1)(14.82,-1)(14.86,0)(14.90,0)(14.94,0)(14.98,-1)
(15.02,0)(15.06,2)(15.10,6)(15.14,10)
};
\end{axis}

\node[font=\titlefont\fontsize{19}{19}\selectfont, anchor=base] at (507pt,710pt) {West Caribbean Airways, MD-82 Venezuela};
\node[font=\titlefont\fontsize{19}{19}\selectfont, anchor=base, fill=white, inner sep=1.5pt] at (507pt,685.5pt) {August 16, 2005};
\end{tikzpicture}
\end{document}
